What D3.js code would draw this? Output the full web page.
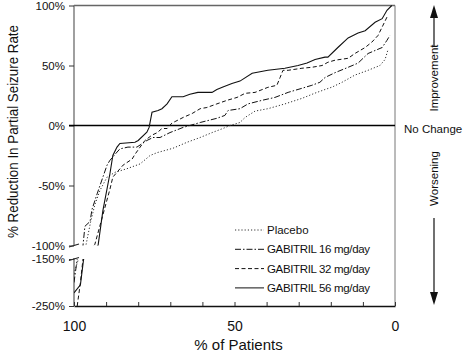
<!DOCTYPE html>
<html><head><meta charset="utf-8">
<script src="https://cdn.jsdelivr.net/npm/d3@7"></script>
<style>body{margin:0;background:#fff}svg{display:block;font-family:"Liberation Sans",Arial,sans-serif}</style>
</head><body><svg id="c" width="464" height="356"></svg>
<script>
// ---- data: [% of patients, % reduction] ----
const seriesNames = ["Placebo", "GABITRIL 16 mg/day", "GABITRIL 32 mg/day", "GABITRIL 56 mg/day"];
const placebo = [[100,-182],[99.3,-165],[98.6,-150],[96.3,-100],[94.8,-80],[93.5,-66],[91.9,-54],[89.7,-43],[87.2,-39],[83.5,-36],[79.4,-32],[76.3,-25],[74.1,-22.6],[69.2,-19],[64.8,-14],[60.7,-10],[56.7,-5.6],[53.6,-2.5],[51.4,0],[48.3,2.5],[46.7,6.7],[43.6,12],[39.6,14],[34.3,18],[29,22.6],[24.9,27],[21.8,30],[19.6,32],[16.5,36],[12.5,42],[8.4,46],[4.7,50],[3.1,55],[2.2,63]];
const dose16 = [[100,-200],[99.5,-175],[99,-150],[97.2,-100],[96.6,-84],[95,-80],[94.4,-70],[92.8,-57],[91.9,-50],[91,-43],[89.7,-33],[88.8,-29],[87.2,-24],[85.7,-19.5],[83.2,-18],[80.4,-18],[77.3,-12.5],[75.4,-10],[73.2,-10],[70.1,-5.9],[66,-1.6],[60.7,2.5],[55.5,6],[53,8.4],[52,12.5],[48.3,14],[45.8,18],[41.4,21],[37.4,23.4],[33.3,27.6],[29,31],[25.9,33.5],[23.4,36],[21.8,40],[18.7,44],[14.6,48.5],[11.5,52],[8.4,60],[4,65],[2.5,71],[1.6,75]];
const dose32 = [[99,-250],[98,-200],[97.2,-150],[93.5,-99],[88.8,-53],[87.9,-43],[86.3,-38],[84.7,-33],[81.9,-28],[81,-24],[79.4,-18],[77.9,-12.5],[75.7,-8],[74.1,-6],[72.6,-2.5],[71,-2.5],[69.5,2],[68.5,3.3],[66,6.7],[63.2,10],[60.7,14],[58.6,15],[55.5,18],[52.3,21],[49.2,23.4],[46.7,26.8],[43.6,27.6],[39.6,31.8],[36.8,33.5],[35.8,40],[34.9,46],[33.3,46],[29,47.7],[25.9,48.5],[22.7,50],[20.9,52.7],[18.7,54.4],[14.6,56],[12.5,60],[9.3,65],[7.2,69.5],[5.3,75],[3.7,83.7],[2.2,92]];
const dose56 = [[100,-222],[98,-205],[97,-150],[92.5,-100],[91,-71],[88.8,-40],[87.9,-25],[86.6,-18],[85.7,-15],[81,-14],[80,-12.5],[77.3,-5.6],[76.6,-1.6],[75.7,11],[73.8,12.5],[72.6,14],[71,18],[69.5,24],[66,24],[63.9,26],[61.4,27.6],[57,27.6],[55.5,30],[53.6,32],[50.8,35],[48.3,37],[44.5,43.5],[39.6,46],[34.3,47.7],[30.2,50],[27.4,52],[24.9,55],[21.8,57],[20.9,57],[17.8,65],[14.6,73],[11.5,77],[9.3,79],[6.2,86],[4,89],[2.5,96],[1,100]];
const yTicks = [100, 50, 0, -50, -100, -150, -250];
const xTicks = [100, 90, 80, 70, 60, 50, 40, 30, 20, 10, 0];
const xLabels = [100, 50, 0];

const allSeries = [placebo, dose16, dose32, dose56];
const dashes = ["1.2,2", "6,2,1.5,2", "4,2.5", null];

const svg = d3.select("#c");
const L = 74, R = 395;
const x = d3.scaleLinear().domain([100, 0]).range([L, R]);
// broken axis: -250..-150 (lower panel), -100..100 (upper panel)
const y = d3.scaleLinear().domain([-250, -150, -100, 100]).range([306, 259, 245.5, 5.5]);

const defs = svg.append("defs");
const cp = defs.append("clipPath").attr("id", "clip");
cp.append("rect").attr("x", L).attr("y", y(100) - 2).attr("width", R - L).attr("height", y(-100) - y(100) + 2);
cp.append("rect").attr("x", L).attr("y", y(-150)).attr("width", R - L).attr("height", y(-250) - y(-150));

// frame: top and right
svg.append("line").attr("x1", L).attr("x2", R).attr("y1", y(100)).attr("y2", y(100)).attr("stroke", "#666").attr("stroke-width", 1.6);
svg.append("line").attr("x1", R).attr("x2", R).attr("y1", y(100)).attr("y2", y(-250)).attr("stroke", "#777").attr("stroke-width", 1);
// left axis in two pieces
svg.append("line").attr("x1", L).attr("x2", L).attr("y1", y(100)).attr("y2", y(-100)).attr("stroke", "#777").attr("stroke-width", 1.4);
svg.append("line").attr("x1", L).attr("x2", L).attr("y1", y(-150) - 1).attr("y2", y(-250)).attr("stroke", "#555").attr("stroke-width", 1.2);
// break marks
svg.append("line").attr("x1", L - 5).attr("x2", L + 5).attr("y1", y(-100) + 1.5).attr("y2", y(-100) - 1.5).attr("stroke", "#222").attr("stroke-width", 1.1);
svg.append("line").attr("x1", L - 5).attr("x2", L + 5).attr("y1", y(-150) + 1.5).attr("y2", y(-150) - 1.5).attr("stroke", "#222").attr("stroke-width", 1.1);

// y axis
const ya = svg.append("g").attr("transform", `translate(${L},0)`)
  .call(d3.axisLeft(y).tickValues(yTicks).tickSize(5).tickPadding(4).tickFormat(d => d + "%"));
ya.select(".domain").remove();
ya.selectAll("text").attr("font-size", 11.5).attr("font-family", "Liberation Sans, Arial, sans-serif").attr("fill", "#111");
ya.selectAll("line").attr("stroke", "#333");

// x axis
const xa = svg.append("g").attr("transform", `translate(0,${y(-250)})`)
  .call(d3.axisBottom(x).tickValues(xTicks).tickSizeInner(-4).tickSizeOuter(0).tickPadding(15)
    .tickFormat(d => xLabels.includes(d) ? String(d) : ""));
xa.select(".domain").attr("stroke", "#111").attr("stroke-width", 1.5);
xa.selectAll("text").attr("font-size", 14).attr("font-family", "Liberation Sans, Arial, sans-serif").attr("fill", "#111");
xa.selectAll(".tick line").attr("stroke", "#333");

// zero line
svg.append("line").attr("x1", L - 5).attr("x2", R).attr("y1", y(0)).attr("y2", y(0)).attr("stroke", "#000").attr("stroke-width", 1.4);

// series
const line = d3.line().x(d => x(d[0])).y(d => y(d[1]));
const g = svg.append("g").attr("clip-path", "url(#clip)");
allSeries.forEach((s, i) => {
  g.append("path").datum(s).attr("d", line).attr("fill", "none")
    .attr("stroke", i === 0 ? "#333" : "#111").attr("stroke-width", i === 3 ? 1.1 : 1)
    .attr("stroke-dasharray", dashes[i]);
});

// legend
const lg = svg.append("g").attr("font-size", 11.5).attr("fill", "#111");
seriesNames.forEach((n, i) => {
  const cy = 230 + i * 19.3;
  lg.append("line").attr("x1", 235).attr("x2", 264).attr("y1", cy).attr("y2", cy)
    .attr("stroke", i === 0 ? "#333" : "#111").attr("stroke-width", 1).attr("stroke-dasharray", dashes[i]);
  lg.append("text").attr("x", 267).attr("y", cy + 4).attr("textLength", i === 0 ? null : 103).text(n);
});

// axis titles
svg.append("text").attr("x", (L + R) / 2 + 4).attr("y", 350).attr("text-anchor", "middle")
  .attr("font-size", 15).attr("fill", "#111").text("% of Patients");
svg.append("text").attr("transform", "translate(18,131.5) rotate(-90)").attr("text-anchor", "middle")
  .attr("font-size", 14).attr("textLength", 213).attr("lengthAdjust", "spacingAndGlyphs")
  .attr("fill", "#111").text("% Reduction In Partial Seizure Rate");

// right annotations
const ax = 434;
svg.append("text").attr("x", 404).attr("y", y(0) + 7).attr("font-size", 11.5).attr("fill", "#111").text("No Change");
svg.append("text").attr("transform", `translate(${ax + 4},78) rotate(-90)`).attr("text-anchor", "middle")
  .attr("font-size", 11.5).attr("fill", "#111").text("Improvement");
svg.append("text").attr("transform", `translate(${ax + 4},178.5) rotate(-90)`).attr("text-anchor", "middle")
  .attr("font-size", 11.5).attr("fill", "#111").text("Worsening");
svg.append("line").attr("x1", ax).attr("x2", ax).attr("y1", 46).attr("y2", 16).attr("stroke", "#111").attr("stroke-width", 1.2);
svg.append("path").attr("d", `M${ax},5 L${ax - 4},18 L${ax + 4},18 Z`).attr("fill", "#111");
svg.append("line").attr("x1", ax).attr("x2", ax).attr("y1", 218).attr("y2", 294).attr("stroke", "#111").attr("stroke-width", 1.2);
svg.append("path").attr("d", `M${ax},305 L${ax - 4},292 L${ax + 4},292 Z`).attr("fill", "#111");
</script></body></html>
